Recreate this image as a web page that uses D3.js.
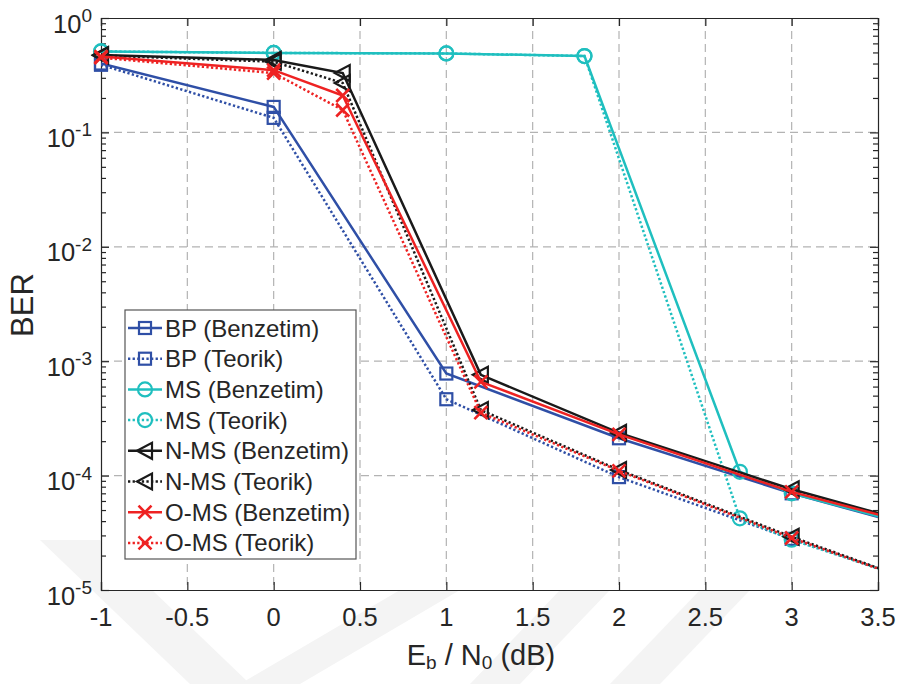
<!DOCTYPE html>
<html>
<head>
<meta charset="utf-8">
<script src="https://cdn.jsdelivr.net/npm/d3@7"></script>
<style>
  html, body { margin: 0; padding: 0; background: #fff; }
  svg { display: block; font-family: "Liberation Sans", Arial, Helvetica, sans-serif; }
</style>
</head>
<body>
<svg id="chart" width="901" height="684"></svg>
<script>
// Eb/N0 points (dB) for each decoder
const snrBP  = [-1, 0, 1, 2, 3, 4];
const snrMS  = [-1, 0, 1, 1.8, 2.7, 3, 4];
const snrNMS = [-1, 0, 0.4, 1.2, 2, 3, 4];
const snrOMS = [-1, 0, 0.4, 1.2, 2, 3, 4];

// BER values: simulation (Benzetim) and theory (Teorik)
const bpSim  = [0.40, 0.167, 7.8e-4, 2.12e-4, 7.0e-5, 2.7e-5];
const bpTeo  = [0.39, 0.134, 4.65e-4, 9.7e-5, 2.8e-5, 8.5e-6];
const msSim  = [0.51, 0.495, 0.49, 0.465, 1.08e-4, 7.0e-5, 2.8e-5];
const msTeo  = [0.51, 0.495, 0.49, 0.465, 4.23e-5, 2.75e-5, 8.7e-6];
const nmsSim = [0.475, 0.43, 0.33, 7.6e-4, 2.36e-4, 7.6e-5, 2.9e-5];
const nmsTeo = [0.47, 0.415, 0.27, 3.74e-4, 1.12e-4, 2.92e-5, 8.3e-6];
const omsSim = [0.46, 0.35, 0.21, 6.6e-4, 2.29e-4, 7.2e-5, 2.9e-5];
const omsTeo = [0.45, 0.33, 0.157, 3.55e-4, 1.1e-4, 2.85e-5, 8.3e-6];

const seriesNames = ["BP (Benzetim)", "BP (Teorik)", "MS (Benzetim)", "MS (Teorik)",
                     "N-MS (Benzetim)", "N-MS (Teorik)", "O-MS (Benzetim)", "O-MS (Teorik)"];

const xTicks = [-1, -0.5, 0, 0.5, 1, 1.5, 2, 2.5, 3, 3.5];
const yExponents = [0, -1, -2, -3, -4, -5];

const xLabelMain = "E", xLabelSub1 = "b", xLabelMid = " / N", xLabelSub2 = "0", xLabelEnd = " (dB)";
const yLabel = "BER";

const colors = { blue: "#2f4fa6", cyan: "#1fbfbf", black: "#1a1a1a", red: "#ee2222" };

const series = [
  { name: seriesNames[0], x: snrBP,  y: bpSim,  color: colors.blue,  dotted: false, marker: "square" },
  { name: seriesNames[1], x: snrBP,  y: bpTeo,  color: colors.blue,  dotted: true,  marker: "square" },
  { name: seriesNames[2], x: snrMS,  y: msSim,  color: colors.cyan,  dotted: false, marker: "circle" },
  { name: seriesNames[3], x: snrMS,  y: msTeo,  color: colors.cyan,  dotted: true,  marker: "circle" },
  { name: seriesNames[4], x: snrNMS, y: nmsSim, color: colors.black, dotted: false, marker: "tri" },
  { name: seriesNames[5], x: snrNMS, y: nmsTeo, color: colors.black, dotted: true,  marker: "tri" },
  { name: seriesNames[6], x: snrOMS, y: omsSim, color: colors.red,   dotted: false, marker: "x" },
  { name: seriesNames[7], x: snrOMS, y: omsTeo, color: colors.red,   dotted: true,  marker: "x" }
];

const svg = d3.select("#chart");
const plot = { left: 101, right: 878, top: 18, bottom: 590 };

const x = d3.scaleLinear().domain([-1, 3.5]).range([plot.left, plot.right]);
const y = d3.scaleLog().domain([1e-5, 1]).range([plot.bottom, plot.top]);

const axisColor = "#262626";

// faint background pattern outside the axes
const wm = svg.append("g").attr("fill", "#f4f4f4");
[
  [[40, 540], [100, 540], [250, 684], [190, 684]],
  [[400, 590], [460, 590], [300, 684], [240, 684]],
  [[560, 590], [610, 590], [520, 684], [470, 684]],
  [[700, 590], [750, 590], [660, 684], [610, 684]]
].forEach(p => wm.append("polygon").attr("points", p.map(d => d.join(",")).join(" ")));

// axes background
svg.append("rect")
  .attr("x", plot.left).attr("y", plot.top)
  .attr("width", plot.right - plot.left).attr("height", plot.bottom - plot.top)
  .attr("fill", "#fff");

// grid
const grid = svg.append("g").attr("stroke", "#b3b3b3").attr("stroke-width", 1.2)
  .attr("stroke-dasharray", "8,5");
xTicks.slice(1, -1).forEach(t => {
  grid.append("line").attr("x1", x(t)).attr("x2", x(t))
    .attr("y1", plot.top).attr("y2", plot.bottom);
});
yExponents.slice(1, -1).forEach(e => {
  grid.append("line").attr("x1", plot.left).attr("x2", plot.right)
    .attr("y1", y(Math.pow(10, e))).attr("y2", y(Math.pow(10, e)));
});

// axes with inward ticks on all four sides
const xAxisB = d3.axisBottom(x).tickValues(xTicks).tickSize(-8).tickFormat("");
const xAxisT = d3.axisTop(x).tickValues(xTicks).tickSize(-8).tickFormat("");
const majorY = yExponents.map(e => Math.pow(10, e));
const minorY = [];
for (let e = -5; e < 0; e++) for (let m = 2; m <= 9; m++) minorY.push(m * Math.pow(10, e));
const yAxisL = d3.axisLeft(y).tickValues(majorY).tickSize(-8).tickFormat("");
const yAxisR = d3.axisRight(y).tickValues(majorY).tickSize(-8).tickFormat("");
const yMinorL = d3.axisLeft(y).tickValues(minorY).tickSize(-5).tickFormat("");
const yMinorR = d3.axisRight(y).tickValues(minorY).tickSize(-5).tickFormat("");

function styleAxis(g) {
  g.selectAll("path").attr("stroke", axisColor).attr("stroke-width", 1.2);
  g.selectAll("line").attr("stroke", axisColor).attr("stroke-width", 1.2);
}
svg.append("g").attr("transform", `translate(0,${plot.bottom})`).call(xAxisB).call(styleAxis);
svg.append("g").attr("transform", `translate(0,${plot.top})`).call(xAxisT).call(styleAxis);
svg.append("g").attr("transform", `translate(${plot.left},0)`).call(yAxisL).call(styleAxis);
svg.append("g").attr("transform", `translate(${plot.right},0)`).call(yAxisR).call(styleAxis);
svg.append("g").attr("transform", `translate(${plot.left},0)`).call(yMinorL).call(styleAxis)
  .select("path").remove();
svg.append("g").attr("transform", `translate(${plot.right},0)`).call(yMinorR).call(styleAxis)
  .select("path").remove();

// tick labels
const txt = svg.append("g").attr("fill", axisColor);
xTicks.forEach(t => {
  txt.append("text").attr("x", x(t)).attr("y", 626)
    .attr("text-anchor", "middle").attr("font-size", 25.5).text(t);
});
yExponents.forEach(e => {
  const ty = y(Math.pow(10, e));
  const t = txt.append("text").attr("x", 92).attr("y", ty + 14.5)
    .attr("text-anchor", "end").attr("font-size", 25.5);
  t.append("tspan").text("10");
  t.append("tspan").attr("font-size", 19).attr("dy", -10.5).text(e);
});

// axis labels
const xl = svg.append("text").attr("x", 481).attr("y", 665)
  .attr("text-anchor", "middle").attr("font-size", 29).attr("fill", axisColor);
xl.append("tspan").text(xLabelMain);
xl.append("tspan").attr("font-size", 19).attr("dy", 4).text(xLabelSub1);
xl.append("tspan").attr("dy", -4).text(xLabelMid);
xl.append("tspan").attr("font-size", 19).attr("dy", 4).text(xLabelSub2);
xl.append("tspan").attr("dy", -4).text(xLabelEnd);

svg.append("text").attr("transform", "translate(33,305) rotate(-90)")
  .attr("text-anchor", "middle").attr("font-size", 31).attr("fill", axisColor).text(yLabel);

// markers
function drawMarker(g, type, cx, cy, color) {
  const m = g.append("g").attr("fill", "none").attr("stroke", color).attr("stroke-width", 2.2);
  if (type === "square") {
    m.append("rect").attr("x", cx - 6).attr("y", cy - 6).attr("width", 12).attr("height", 12);
  } else if (type === "circle") {
    m.append("circle").attr("cx", cx).attr("cy", cy).attr("r", 7);
  } else if (type === "tri") {
    m.append("path").attr("d", `M${cx - 8},${cy} L${cx + 7},${cy - 8} L${cx + 7},${cy + 8} Z`);
  } else if (type === "x") {
    m.attr("stroke-width", 2.6);
    m.append("path").attr("d",
      `M${cx - 6.5},${cy - 6.5} L${cx + 6.5},${cy + 6.5} M${cx - 6.5},${cy + 6.5} L${cx + 6.5},${cy - 6.5}`);
  }
}

svg.append("clipPath").attr("id", "plotClip").append("rect")
  .attr("x", plot.left).attr("y", plot.top)
  .attr("width", plot.right - plot.left).attr("height", plot.bottom - plot.top);

const line = d3.line().x(d => x(d[0])).y(d => y(d[1]));
const dataG = svg.append("g");
series.forEach(s => {
  const pts = s.x.map((v, i) => [v, s.y[i]]);
  const g = dataG.append("g");
  g.append("path").attr("d", line(pts)).attr("clip-path", "url(#plotClip)")
    .attr("fill", "none").attr("stroke", s.color).attr("stroke-width", 2.5)
    .attr("stroke-dasharray", s.dotted ? "2.3,2.3" : null);
  pts.filter(p => p[0] <= 3.5).forEach(p => drawMarker(g, s.marker, x(p[0]), y(p[1]), s.color));
});

// legend
const lg = svg.append("g");
lg.append("rect").attr("x", 125).attr("y", 310).attr("width", 231).attr("height", 249)
  .attr("fill", "#fff").attr("stroke", "#555").attr("stroke-width", 1.2);
series.forEach((s, i) => {
  const cy = 328 + i * 30.7;
  lg.append("line").attr("x1", 128).attr("x2", 162).attr("y1", cy).attr("y2", cy)
    .attr("stroke", s.color).attr("stroke-width", 2.5)
    .attr("stroke-dasharray", s.dotted ? "2.3,2.3" : null);
  drawMarker(lg, s.marker, 145, cy, s.color);
  lg.append("text").attr("x", 165).attr("y", cy + 8.5).attr("font-size", 24)
    .attr("fill", axisColor).text(s.name);
});
</script>
</body>
</html>
